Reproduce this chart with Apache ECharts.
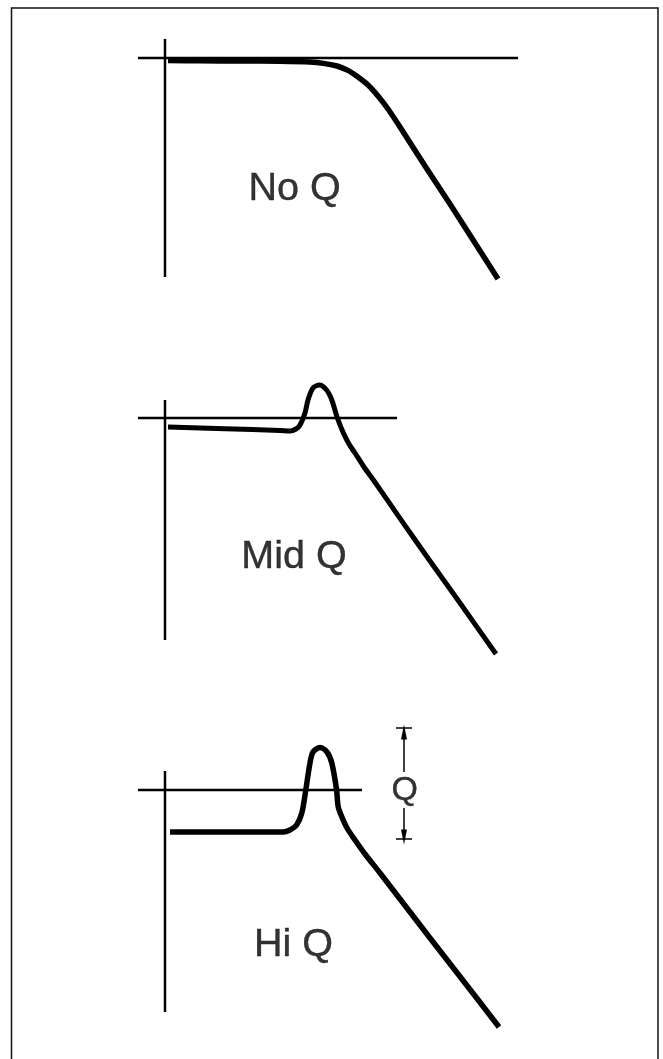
<!DOCTYPE html>
<html>
<head>
<meta charset="utf-8">
<script src="https://cdn.jsdelivr.net/npm/echarts@6/dist/echarts.min.js"></script>
<style>
html,body{margin:0;padding:0;background:#fff;}
#c{width:663px;height:1059px;}
</style>
</head>
<body>
<div id="c"></div>
<script>
// Response curves: [log-frequency units, gain units]; reference level = 0
const noQ = [[0.75,-0.6],[8.75,-0.7],[18.75,-0.75],[28.75,-0.8],[36.25,-1],[40,-1.4],[43,-2],[45.75,-3.1],[48.25,-4.75],[50.75,-6.75],[53.25,-9.5],[55.75,-12.75],[58.75,-17.25],[65,-27],[71.25,-36.5],[77.5,-46.25],[83.25,-55.25]];
const midQ = [[0.75,-2.25],[15,-2.7],[28.75,-3.1],[31.25,-3.25],[32.75,-2.75],[33.75,-1.75],[35,1.25],[35.75,4.5],[37,7.5],[38.6,8.25],[40.4,7],[41.7,4.5],[43.1,0],[44.6,-3.75],[46,-6.5],[47.5,-8.75],[49.75,-12.25],[52.1,-15.5],[58.75,-25.1],[66.25,-35.75],[73.75,-46.25],[82.75,-59]];
const hiQ = [[1.25,-10.5],[15,-10.5],[29.5,-10.5],[31.25,-10],[32.9,-8.75],[34.2,-5.75],[35.2,0],[36.25,6.75],[37,9.5],[38.75,10.6],[40.5,9.5],[41.7,6.75],[42.9,0],[43.3,-4.2],[44.2,-6.7],[45.5,-9.5],[47.5,-12.5],[50,-16],[53.75,-20.75],[58.75,-27.25],[66.25,-37],[75,-48.25],[83.5,-59.25]];

// Axis extents per panel: vertical axis [top, bottom], reference line [left, right]
const vAxis = [[4.75,-54.75],[4.5,-55.5],[4.75,-55.5]];
const refLine = [[-6.75,88.25],[-6.75,58],[-6.75,49.25]];

// Panel labels
const labels = ['No Q','Mid Q','Hi Q'];
const labelPos = [[32.4,-32.75],[32.25,-34.75],[32.1,-38.75]];

// Q annotation (panel 3): x, top bar, arrow up [from,to], arrow down [from,to], bottom bar
const qX = 59.75;
const qTop = 15.5, qUpArrow = [4.5,14.5], qDownArrow = [-4.5,-11.75], qBottom = -12.25;
const qLabel = [59.9,-0.25];

const curves = [noQ, midQ, hiQ];
const widths = [5.5, 5, 5.5];
const yRanges = [[-58,7],[-62,10],[-62,17]];
const tops = [30,378,722];
const font = 'Liberation Sans, Arial, sans-serif';

const grids = [], xAxes = [], yAxes = [], series = [];
for (let i = 0; i < 3; i++) {
  grids.push({left:125, top:tops[i], width:420, height:(yRanges[i][1]-yRanges[i][0])*4});
  xAxes.push({type:'value', gridIndex:i, min:-10, max:95, show:false});
  yAxes.push({type:'value', gridIndex:i, min:yRanges[i][0], max:yRanges[i][1], show:false});
  series.push({type:'line', xAxisIndex:i, yAxisIndex:i, showSymbol:false, symbol:'none',
    data:[[0,vAxis[i][0]],[0,vAxis[i][1]]], lineStyle:{color:'#000', width:2.5}, silent:true});
  series.push({type:'line', xAxisIndex:i, yAxisIndex:i, showSymbol:false, symbol:'none',
    data:[[refLine[i][0],0],[refLine[i][1],0]], lineStyle:{color:'#000', width:2.5}, silent:true});
  series.push({type:'line', xAxisIndex:i, yAxisIndex:i, showSymbol:false, symbol:'none', smooth:0.3,
    data:curves[i], lineStyle:{color:'#000', width:widths[i], cap:'butt', join:'round'}, silent:true});
  series.push({type:'scatter', xAxisIndex:i, yAxisIndex:i, symbolSize:0, silent:true,
    data:[{value:labelPos[i], name:labels[i]}],
    label:{show:true, position:'inside', formatter:'{b}', color:'#000', textBorderColor:'#000', textBorderWidth:0.4, fontFamily:font, fontSize:39.5}});
}
// Q annotation
series.push({type:'line', xAxisIndex:2, yAxisIndex:2, symbol:'none', data:[[qX-2,qTop],[qX+2,qTop]], lineStyle:{color:'#000', width:1.5}, silent:true});
series.push({type:'line', xAxisIndex:2, yAxisIndex:2, symbol:'none', data:[[qX-2,qBottom],[qX+2,qBottom]], lineStyle:{color:'#000', width:1.5}, silent:true});
series.push({type:'scatter', xAxisIndex:2, yAxisIndex:2, symbolSize:0, silent:true,
  data:[{value:qLabel, name:'Q'}],
  label:{show:true, position:'inside', formatter:'{b}', color:'#000', textBorderColor:'#000', textBorderWidth:0.4, fontFamily:font, fontSize:34},
  markLine:{silent:true, animation:false, symbol:['none','triangle'], symbolSize:[6,15], label:{show:false},
    lineStyle:{color:'#000', width:1.5, type:'solid'},
    data:[[{coord:[qX,qUpArrow[0]]},{coord:[qX,qUpArrow[1]]}],[{coord:[qX,qDownArrow[0]]},{coord:[qX,qDownArrow[1]]}]]}});

const chart = echarts.init(document.getElementById('c'), null, {renderer:'canvas'});
chart.setOption({
  animation:false,
  backgroundColor:'#fff',
  graphic:[{type:'rect', shape:{x:11.5, y:8, width:646.5, height:1200}, style:{fill:'none', stroke:'#111', lineWidth:1.5}, silent:true}],
  grid:grids, xAxis:xAxes, yAxis:yAxes, series:series
});
</script>
</body>
</html>
